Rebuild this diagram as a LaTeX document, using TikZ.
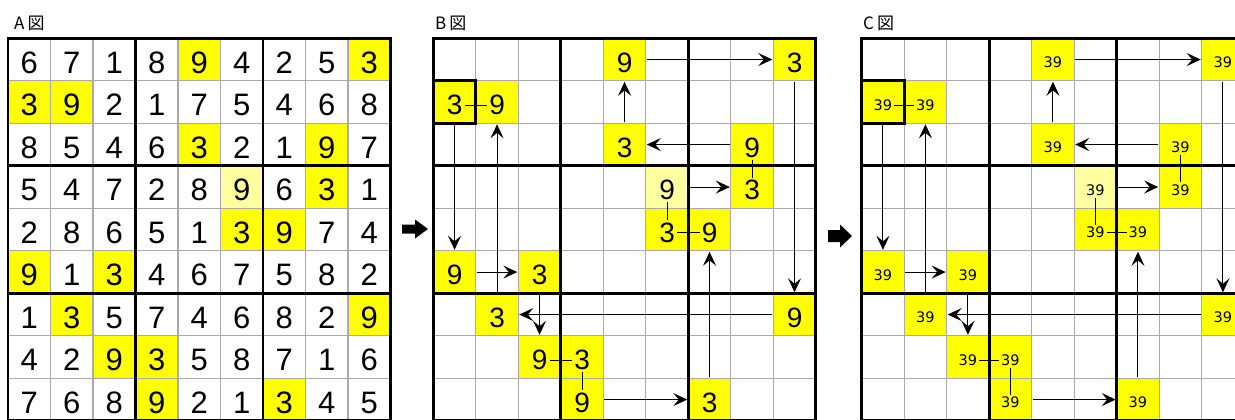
\documentclass[tikz,border=0pt]{standalone}
\usepackage{fontspec}
\setmainfont{Liberation Sans}
\newfontfamily\jpfont{Noto Sans CJK JP}
\newfontfamily\dvfont{DejaVu Sans}
\usetikzlibrary{arrows.meta}
\definecolor{yel}{HTML}{FFFF00}
\definecolor{lyel}{HTML}{FFFFA0}
\definecolor{gridgray}{RGB}{170,170,170}
\def\cs{42.5}
\def\yo{38.3}
\newcommand\marklist{1/5/9/yel,1/9/3/yel,2/1/3/yel,2/2/9/yel,3/5/3/yel,3/8/9/yel,4/6/9/lyel,4/8/3/yel,5/6/3/yel,5/7/9/yel,6/1/9/yel,6/3/3/yel,7/2/3/yel,7/9/9/yel,8/3/9/yel,8/4/3/yel,9/4/9/yel,9/7/3/yel}
\newcommand\gridlines[1]{%
  \foreach \k in {1,2,4,5,7,8}{
    \draw[thinl] ({#1+\k*\cs},\yo) -- ++(0,9*\cs);
    \draw[thinl] (#1,{\yo+\k*\cs}) -- ++(9*\cs,0);}
  \foreach \k in {3,6}{
    \draw[thickl] ({#1+\k*\cs},\yo) -- ++(0,9*\cs);
    \draw[thickl] (#1,{\yo+\k*\cs}) -- ++(9*\cs,0);}
  \draw[thickl] (#1,\yo) rectangle ++(9*\cs,9*\cs);
}
\newcommand\markfills[2]{%
  \foreach \ri/\ci/\dv/\fc in \marklist {
    \node[cellbox,fill=\fc] (#1\ri\ci) at ({#2+(\ci-0.5)*\cs},{\yo+(\ri-0.5)*\cs}) {};}
}
\newcommand\marktexts[4]{%
  \foreach \ri/\ci/\dv/\fc in \marklist {
    \node[#3] (t#1\ri\ci) at ({#2+(\ci-0.5)*\cs},{\yo+(\ri-0.5)*\cs+3}) {#4};}
}
\newcommand\chain[1]{%
  \draw[conn] (#115) -- (#119);
  \draw[conn] (#135) -- (#115);
  \draw[conn] (#138) -- (#135);
  \draw[conn] (#146) -- (#148);
  \draw[conn] (#197) -- (#157);
  \draw[conn] (#119) -- (#179);
  \draw[conn] (#179) -- (#172);
  \draw[conn] (#121) -- (#161);
  \draw[conn] (#161) -- (#163);
  \draw[conn] (#172) -- (#122);
  \draw[conn] (#163) -- (#183);
  \draw[conn] (#194) -- (#197);
  \draw[link] (t#121) -- (t#122);
  \draw[link] (t#138) -- (t#148);
  \draw[link] (t#146) -- (t#156);
  \draw[link] (t#156) -- (t#157);
  \draw[link] (t#183) -- (t#184);
  \draw[link] (t#184) -- (t#194);
}
\begin{document}
\begin{tikzpicture}[x=1pt,y=-1pt,
  thinl/.style={draw=gridgray,line width=1.1pt},
  thickl/.style={draw=black,line width=2.8pt},
  cellbox/.style={rectangle,draw=none,inner sep=0pt,outer sep=1pt,minimum size=\cs pt},
  boldbox/.style={rectangle,draw=black,line width=3pt,inner sep=0pt,minimum size=\cs pt},
  digA/.style={inner sep=2pt,font=\fontsize{31}{31}\selectfont},
  digB/.style={inner sep=2pt,font=\fontsize{28}{28}\selectfont},
  digC/.style={inner sep=2pt,font=\dvfont\fontsize{14.5}{14.5}\selectfont},
  lab/.style={anchor=base west,inner sep=0pt,font=\jpfont\fontsize{17}{17}\selectfont},
  conn/.style={draw=black,line width=1pt,-{Stealth[length=14pt,width=13pt,inset=5.5pt]}},
  link/.style={draw=black,line width=1pt}]
\useasboundingbox (0,0) rectangle (1235,420);
\clip (0,0) rectangle (1235,420);
% labels
\node[lab] (labA) at (14,29.5) {A\kern3pt 図};
\node[lab] (labB) at (435,29.5) {B\kern3pt 図};
\node[lab] (labC) at (863,29.5) {C\kern3pt 図};
% ---- grid A ----
\foreach \ri/\ci/\fc in {1/5/yel,1/9/yel,2/1/yel,2/2/yel,3/5/yel,3/8/yel,4/6/lyel,4/8/yel,5/6/yel,5/7/yel,6/1/yel,6/3/yel,7/2/yel,7/9/yel,8/3/yel,8/4/yel,9/4/yel,9/7/yel}{
  \node[cellbox,fill=\fc] (Af\ri\ci) at ({8+(\ci-0.5)*\cs},{\yo+(\ri-0.5)*\cs}) {};}
\gridlines{8}
\foreach \rowd [count=\ri] in {{6,7,1,8,9,4,2,5,3},{3,9,2,1,7,5,4,6,8},{8,5,4,6,3,2,1,9,7},{5,4,7,2,8,9,6,3,1},{2,8,6,5,1,3,9,7,4},{9,1,3,4,6,7,5,8,2},{1,3,5,7,4,6,8,2,9},{4,2,9,3,5,8,7,1,6},{7,6,8,9,2,1,3,4,5}}{
  \foreach \dv [count=\ci] in \rowd {
    \node[digA] (A\ri\ci) at ({8+(\ci-0.5)*\cs},{\yo+(\ri-0.5)*\cs+3}) {\dv};}}
% ---- grid B ----
\markfills{B}{433.3}
\gridlines{433.3}
\node[boldbox] (Bbox) at (B21.center) {};
\marktexts{B}{433.3}{digB}{\dv}
\chain{B}
% ---- grid C ----
\markfills{C}{861.7}
\gridlines{861.7}
\node[boldbox] (Cbox) at (C21.center) {};
\marktexts{C}{861.7}{digC}{39}
\chain{C}
% block arrows between grids
\fill[black] (402,224.5) -- (415,224.5) -- (415,219.5) -- (428,229) -- (415,238.5) -- (415,233.5) -- (402,233.5) -- cycle;
\fill[black] (828,230) -- (840,230) -- (840,224.5) -- (852,236) -- (840,247.5) -- (840,242) -- (828,242) -- cycle;
\end{tikzpicture}
\end{document}
